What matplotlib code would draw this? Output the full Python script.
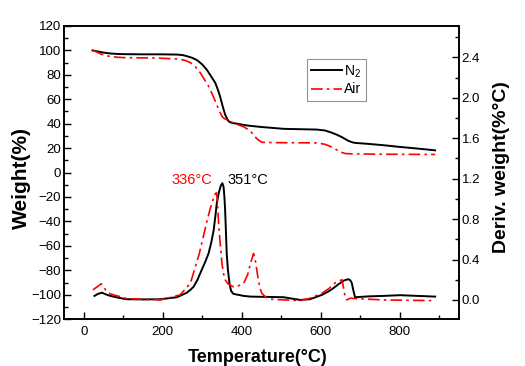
import matplotlib
matplotlib.use("Agg")
import matplotlib.pyplot as plt
from matplotlib.ticker import MultipleLocator
from matplotlib.lines import Line2D

plt.rcParams['font.family'] = ['Liberation Sans', 'DejaVu Sans']
plt.rcParams['mathtext.default'] = 'regular'

# TG curves (left axis, %)
t_tg_n2 = [22, 35, 50, 67, 85, 109, 150, 194, 236, 250, 261, 275, 287, 300, 312, 322, 333, 340,
           345, 352, 358, 363, 367, 372, 378, 388, 405, 420, 447, 506, 590, 610, 625, 641, 655,
           670, 680, 687, 720, 759, 800, 844, 890]
w_n2 = [100, 99.2, 98.2, 97.5, 97.1, 96.9, 96.8, 96.8, 96.6, 96.2, 95.3, 93.9, 92, 88.5, 84, 79,
        73.5, 67.5, 62.5, 54, 47.5, 44, 42, 41, 40.5, 40, 39, 38.3, 37.4, 35.8, 35.2, 34.5, 33,
        31, 28.8, 26, 24.8, 24.3, 23.5, 22.4, 21, 19.7, 18.2]

t_tg_air = [22, 32, 45, 63, 85, 109, 180, 236, 255, 270, 283, 295, 305, 316, 325, 333, 342, 350,
            356, 362, 380, 396, 405, 415, 423, 430, 436, 441, 451, 480, 590, 610, 622, 632, 642,
            652, 662, 680, 700, 759, 890]
w_air = [100, 98.8, 96.8, 95.3, 94.4, 94, 93.8, 93, 92, 90, 86.5, 81.7, 76.5, 70.7, 64.5, 58.4,
         51.5, 46, 44.2, 43.4, 40.5, 38.5, 37.5, 35.5, 33.5, 31, 28.5, 27, 24.8, 24.5, 24.3,
         23.2, 21.8, 20.2, 18.3, 16.6, 15.6, 15.3, 15.2, 15, 14.8]

# DTG curves (right axis, %/°C)
t_dtg_n2 = [27, 36, 46, 56, 67, 90, 109, 150, 194, 236, 261, 270, 278, 288, 299, 308, 316, 323,
            329, 333, 337, 342, 347, 351, 354, 356, 358, 360, 362, 365, 369, 373, 379, 405, 422,
            506, 548, 573, 603, 620, 632, 645, 658, 665, 670, 675, 679, 683, 687, 700, 720, 759,
            801, 890]
d_n2 = [0.04, 0.06, 0.072, 0.055, 0.04, 0.02, 0.007, 0.005, 0.007, 0.027, 0.072, 0.1, 0.13,
        0.2, 0.30, 0.38, 0.46, 0.57, 0.69, 0.82, 0.96, 1.06, 1.13, 1.155, 1.12, 1.03, 0.89,
        0.68, 0.46, 0.3, 0.165, 0.09, 0.06, 0.04, 0.033, 0.027, 0.0, 0.007, 0.05, 0.085, 0.116,
        0.155, 0.19, 0.2, 0.205, 0.195, 0.165, 0.09, 0.027, 0.03, 0.035, 0.04, 0.047, 0.033]

t_dtg_air = [23, 34, 44, 55, 67, 109, 194, 244, 270, 282, 292, 303, 312, 320, 328, 333, 336,
             338, 341, 345, 350, 354, 358, 365, 379, 392, 405, 415, 422, 430, 435, 440, 446,
             451, 460, 472, 548, 573, 603, 620, 637, 648, 654, 658, 662, 666, 675, 759, 890]
d_air = [0.1, 0.13, 0.16, 0.1, 0.06, 0.013, 0.0, 0.05, 0.165, 0.32, 0.45, 0.63, 0.78, 0.9, 1.0,
         1.05, 1.06, 1.0, 0.79, 0.58, 0.36, 0.26, 0.2, 0.16, 0.13, 0.14, 0.165, 0.25, 0.36,
         0.46, 0.38, 0.25, 0.12, 0.066, 0.03, 0.007, -0.007, 0.017, 0.066, 0.11, 0.17, 0.19,
         0.2, 0.12, 0.033, 0.0, 0.017, 0.0, -0.007]

peak_air = 336
peak_n2 = 351

fig = plt.figure(figsize=(5.25, 3.66), dpi=100)
ax = fig.add_axes([0.122, 0.128, 0.752, 0.801])
ax2 = ax.twinx()

red_dash = (0, (7, 2.5, 1.5, 2.5))

ax.plot(t_tg_n2, w_n2, color='black', lw=1.4)
ax.plot(t_tg_air, w_air, color='red', lw=1.2, linestyle=red_dash)
ax2.plot(t_dtg_n2, d_n2, color='black', lw=1.4)
ax2.plot(t_dtg_air, d_air, color='red', lw=1.2, linestyle=red_dash)

ax.set_xlim(-50, 950)
ax.set_ylim(-120, 120)
ax2.set_ylim(-0.19, 2.71)

ax.xaxis.set_major_locator(MultipleLocator(200))
ax.xaxis.set_minor_locator(MultipleLocator(100))
ax.yaxis.set_major_locator(MultipleLocator(20))
ax.yaxis.set_minor_locator(MultipleLocator(10))
ax2.yaxis.set_major_locator(MultipleLocator(0.4))
ax2.yaxis.set_minor_locator(MultipleLocator(0.2))
ax2.yaxis.set_major_formatter(plt.FormatStrFormatter('%.1f'))

ax.tick_params(axis='both', which='both', direction='in', top=False, right=False,
               labelsize=9.5, width=1)
ax.tick_params(axis='y', pad=2)
ax.tick_params(axis='x', pad=5)
ax.tick_params(which='major', length=5)
ax.tick_params(which='minor', length=3)
ax2.tick_params(axis='y', which='both', direction='in', labelsize=9.5, width=1, pad=2)
ax2.tick_params(which='major', length=5)
ax2.tick_params(which='minor', length=3)

for a in (ax, ax2):
    for s in a.spines.values():
        s.set_linewidth(1.2)

ax.set_xlabel('Temperature(°C)', fontsize=13, fontweight='bold', va='center')
ax.xaxis.set_label_coords(0.49, -0.13)
ax.set_ylabel('Weight(%)', fontsize=15, fontweight='bold', va='center')
ax.yaxis.set_label_coords(-0.109, 0.48)
ax2.set_ylabel('Deriv. weight(%°C)', fontsize=14, fontweight='bold', va='center', rotation=90)
ax2.yaxis.set_label_coords(1.109, 0.52)

ax2.text(325, 1.19, f'{peak_air}°C', color='red', fontsize=10.5, ha='right', va='center')
ax2.text(365, 1.19, f'{peak_n2}°C', color='black', fontsize=10.5, ha='left', va='center')

handles = [Line2D([], [], color='black', lw=1.4),
           Line2D([], [], color='red', lw=1.2, linestyle=red_dash)]
leg = ax.legend(handles, ['N$_2$', 'Air'], loc='upper left', bbox_to_anchor=(0.615, 0.887),
                fontsize=10, frameon=True, fancybox=False, borderaxespad=0,
                handlelength=2.2, handletextpad=0.2, borderpad=0.3, labelspacing=0.2)
leg.get_frame().set_edgecolor('#777777')
leg.get_frame().set_linewidth(0.8)

fig.savefig('out.png', dpi=100)
